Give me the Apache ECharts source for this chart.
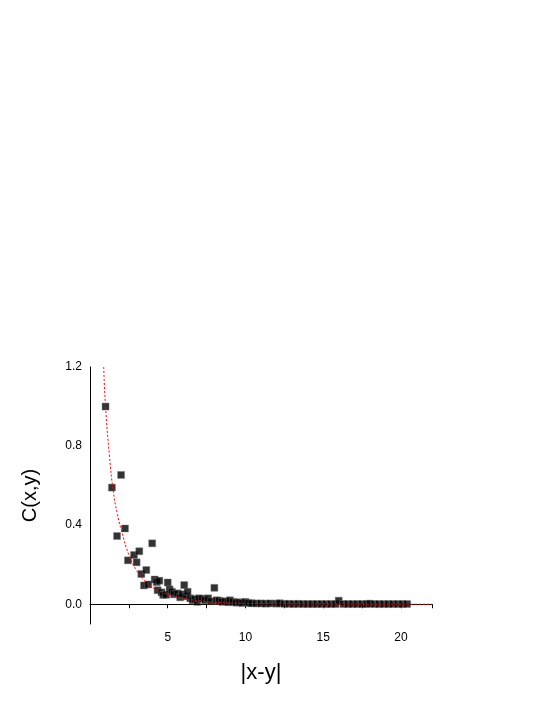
<!DOCTYPE html>
<html>
<head>
<meta charset="utf-8">
<script src="https://cdn.jsdelivr.net/npm/echarts@6/dist/echarts.min.js"></script>
<style>html,body{margin:0;padding:0;background:#fff}#chart{width:545px;height:705px}</style>
</head>
<body>
<div id="chart"></div>
<script>
// measured points |x-y| vs C(x,y)
var points = [
  [1.0,1.0],[1.41,0.59],[1.74,0.345],[2.0,0.654],[2.25,0.383],[2.44,0.222],[2.83,0.249],[3.0,0.212],
  [3.17,0.268],[3.3,0.153],[3.47,0.095],[3.62,0.173],[3.75,0.1],[4.0,0.308],[4.16,0.125],[4.29,0.112],
  [4.35,0.071],[4.46,0.119],[4.6,0.06],[4.71,0.047],[4.9,0.048],[5.0,0.11],[5.12,0.075],[5.27,0.063],
  [5.4,0.05],[5.64,0.055],[5.8,0.035],[5.95,0.05],[6.06,0.097],[6.2,0.04],[6.28,0.063],[6.45,0.03],
  [6.6,0.02],[6.75,0.025],[6.9,0.012],[7.0,0.03],[7.2,0.028],[7.4,0.02],[7.6,0.03],[7.8,0.015],
  [8.0,0.083],[8.15,0.02],[8.3,0.018],[8.5,0.012],[8.7,0.015],[8.9,0.01],[9.0,0.02],[9.2,0.012],
  [9.4,0.008],[9.6,0.01],[9.8,0.006],[10.0,0.012],[10.2,0.006],[10.4,0.005],[10.7,0.004],[11.0,0.004],
  [11.3,0.003],[11.6,0.004],[12.0,0.003],[12.2,0.005],[12.5,0.002],[12.8,0.002],[13.1,0.001],[13.4,0.002],
  [13.7,0.001],[14.0,0.001],[14.3,0.001],[14.6,0.001],[14.9,0.001],[15.2,0.001],[15.5,0.001],[15.8,0.001],
  [16.0,0.018],[16.3,0.001],[16.6,0.001],[16.9,0.001],[17.2,0.001],[17.5,0.001],[17.8,0.001],[18.0,0.003],
  [18.3,0.001],[18.6,0.001],[18.9,0.001],[19.2,0.001],[19.5,0.001],[19.8,0.001],[20.1,0.001],[20.4,0.001]
];
// fitted curve
var fitLine = [
  [0.88,1.2],[1.0,1.0],[1.25,0.75],[1.5,0.57],[1.75,0.46],[2.0,0.38],[2.5,0.25],[3.0,0.17],[3.5,0.12],
  [4.0,0.085],[4.5,0.065],[5.0,0.05],[6.0,0.03],[7.0,0.018],[8.0,0.01],[10.0,0.004],[12.0,0.002],
  [15.0,0.001],[18.0,0.0],[22.0,0.0]
];
var yLabels = [0, 0.4, 0.8, 1.2];

var chart = echarts.init(document.getElementById('chart'));
chart.setOption({
  animation: false,
  grid: { left: 90, right: 113, top: 367, bottom: 81 },
  xAxis: {
    type: 'value', min: 0, max: 22, interval: 5,
    name: '|x-y|', nameLocation: 'middle', nameGap: 38,
    nameTextStyle: { fontFamily: 'Liberation Sans', fontSize: 22, color: '#000' },
    axisLine: { lineStyle: { color: '#000' } },
    axisTick: { length: 4, lineStyle: { color: '#000' } },
    minorTick: { show: true, splitNumber: 2, length: 4, lineStyle: { color: '#000' } },
    splitLine: { show: false },
    axisLabel: { showMaxLabel: false, fontFamily: 'Liberation Sans', fontSize: 12, color: '#000',
      formatter: function (v) { return v === 0 ? '' : String(v); } }
  },
  yAxis: {
    type: 'value', min: -0.1, max: 1.2, interval: 0.1,
    name: 'C(x,y)', nameLocation: 'middle', nameGap: 50,
    nameTextStyle: { fontFamily: 'Liberation Sans', fontSize: 20, color: '#000' },
    axisLine: { show: true, lineStyle: { color: '#000' } },
    axisTick: { show: false },
    splitLine: { show: false },
    axisLabel: { fontFamily: 'Liberation Sans', fontSize: 12, color: '#000',
      formatter: function (v) {
        var r = Math.round(v * 10) / 10;
        return yLabels.indexOf(r) >= 0 ? r.toFixed(1) : '';
      } }
  },
  series: [
    { type: 'line', data: fitLine, smooth: true, symbol: 'none',
      lineStyle: { color: '#ff0000', width: 1, type: [2, 2] }, z: 3 },
    { type: 'scatter', data: points, symbol: 'rect', symbolSize: 7,
      itemStyle: { color: '#000', borderColor: '#777', borderWidth: 0.5 }, z: 2 }
  ]
});
</script>
</body>
</html>
